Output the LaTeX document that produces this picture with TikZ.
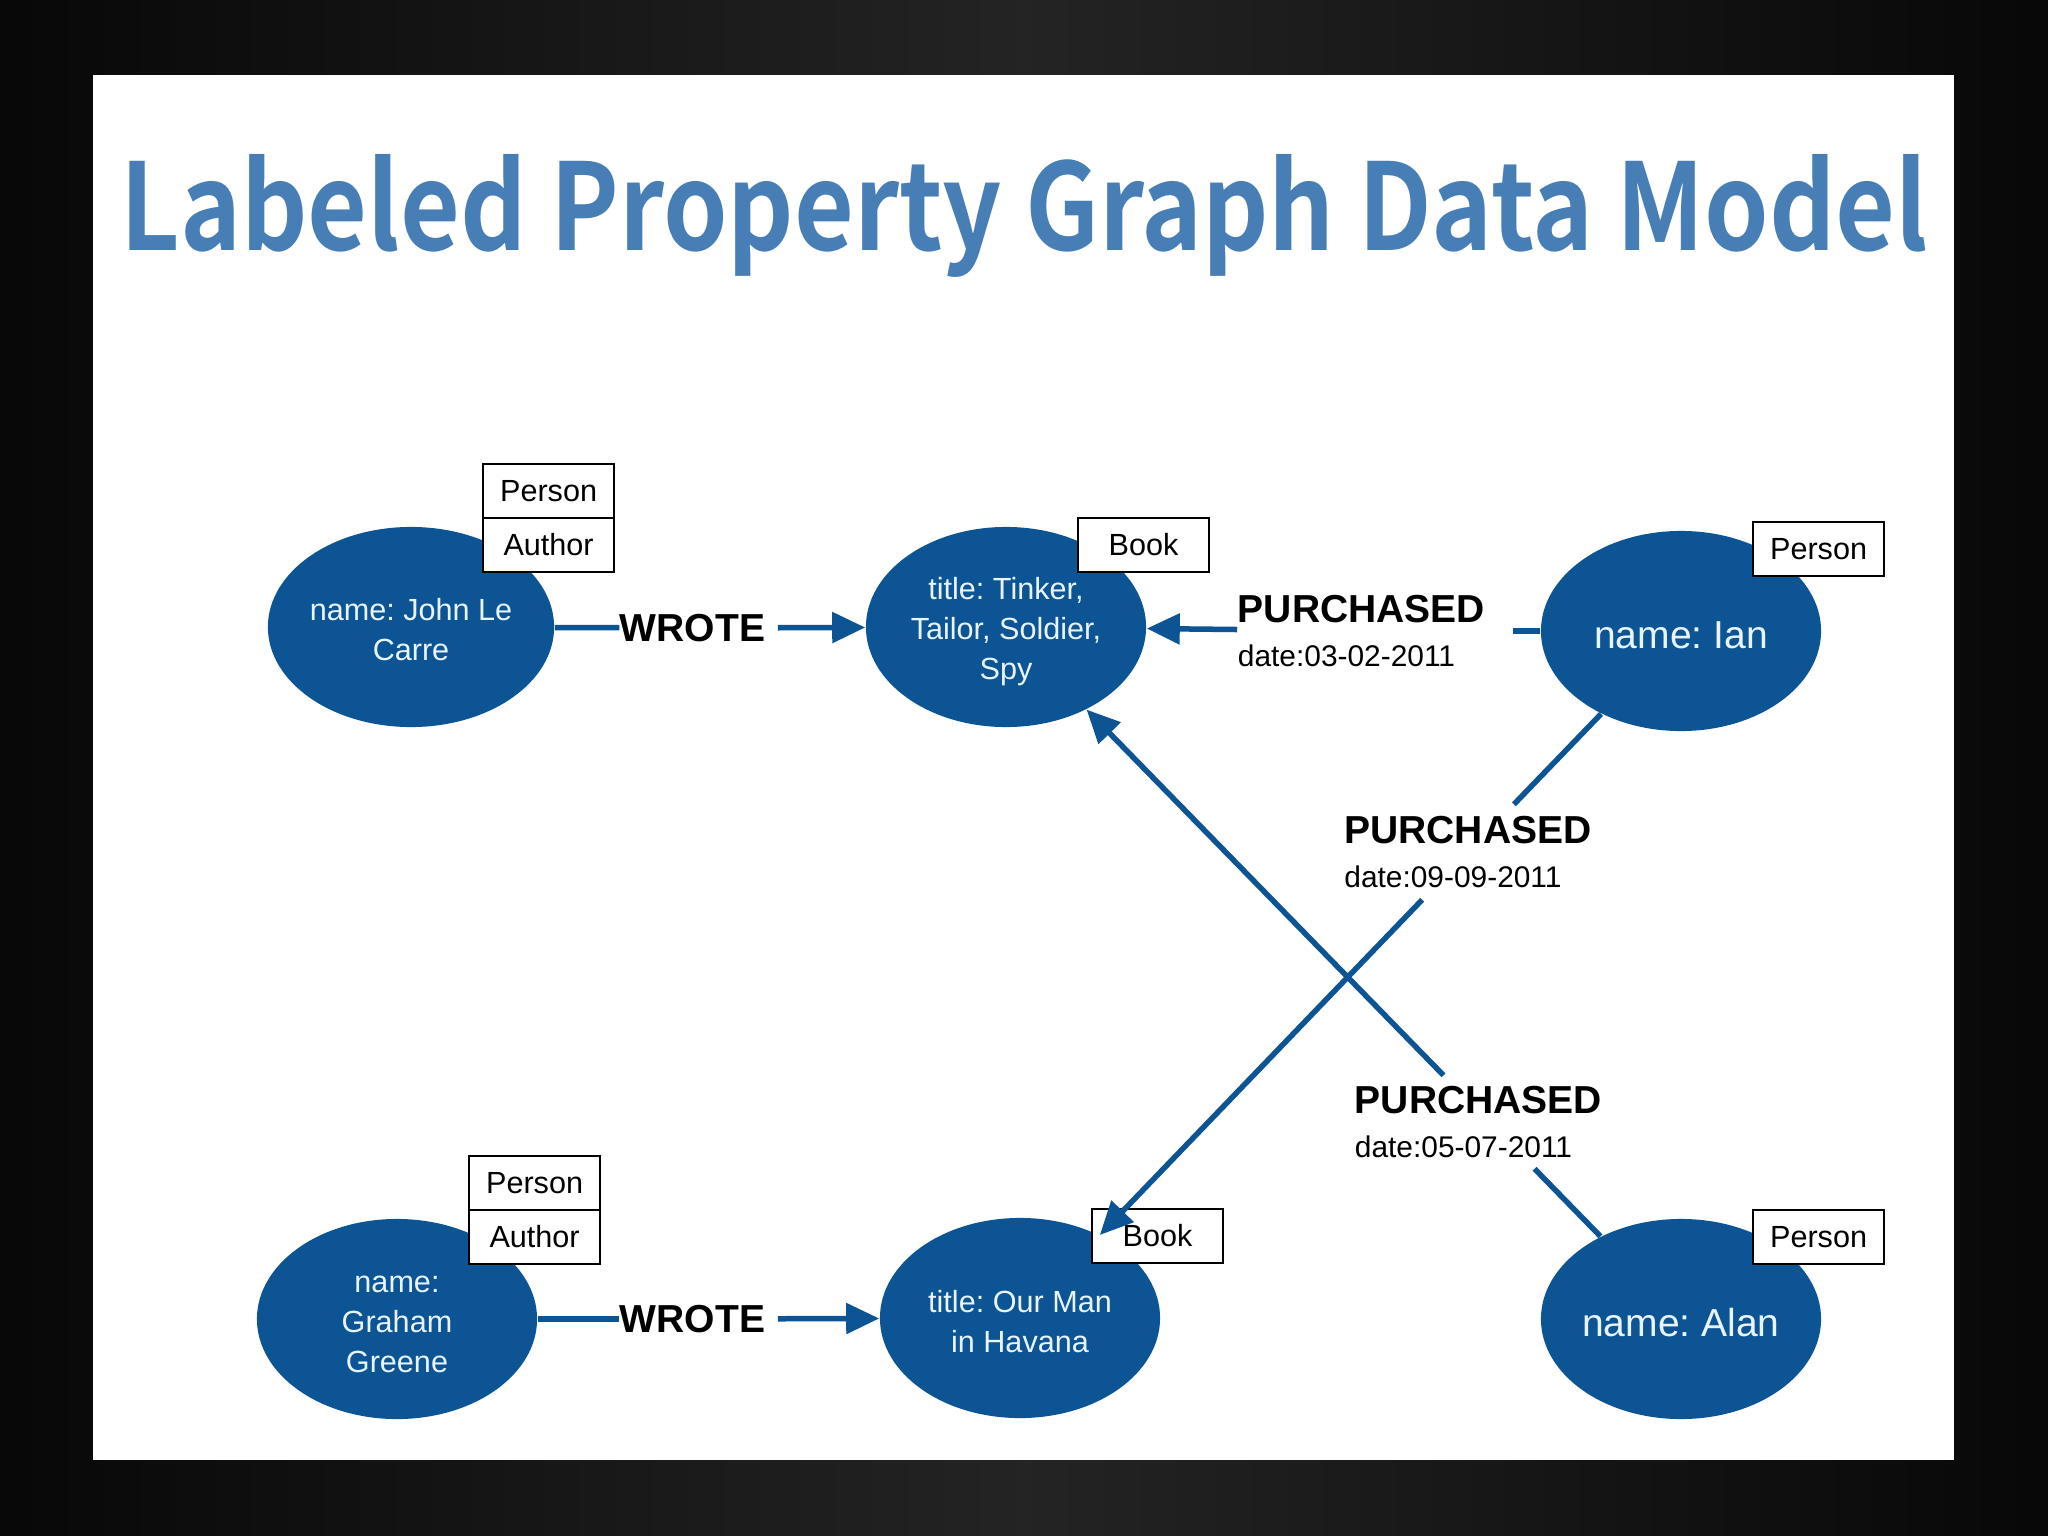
\documentclass[tikz,border=0pt]{standalone}
\usepackage{fontspec}
\setmainfont{Liberation Sans}
\newfontfamily\titlefont{Noto Sans CJK KR Bold}
\usetikzlibrary{shapes.geometric,arrows.meta,calc}
\definecolor{nodeblue}{RGB}{13,84,149}
\definecolor{titleblue}{RGB}{72,126,182}
\definecolor{nodetext}{RGB}{232,244,255}
\newcommand\firststrut[1]{\rule{0pt}{#1}}
\frenchspacing
\begin{document}
\begin{tikzpicture}[x=0.01cm,y=-0.01cm,
  ent/.style={ellipse, fill=nodeblue, draw=none, minimum width=2.8cm, minimum height=2cm,
    inner sep=0pt, text=nodetext, align=center, font=\fontsize{8.7pt}{11.4pt}\selectfont},
  bigent/.style={ent, font=\fontsize{11.1pt}{13pt}\selectfont,
    execute at begin node={\rule{0pt}{3.6mm}}},
  tag/.style={draw=black, fill=white, line width=0.6pt, minimum width=1.31cm, minimum height=0.54cm,
    inner sep=0pt, font=\fontsize{8.7pt}{10pt}\selectfont, anchor=south west},
  wrel/.style={font=\bfseries\fontsize{11.1pt}{13pt}\selectfont, inner xsep=0pt, inner ysep=2pt,
    text width=1.57cm, align=left},
  prel/.style={inner sep=0pt, align=left, font=\fontsize{8.5pt}{12.4pt}\selectfont},
  link/.style={draw=nodeblue, line width=0.055cm},
  arr/.style={link, -{Triangle[length=0.33cm,width=0.30cm]}},
]
\useasboundingbox (0,0) rectangle (2048,1536);
\shade[left color=black!97, right color=black!97, middle color=black!86] (0,0) rectangle (2048,1536);
\fill[white] (93,75) rectangle (1954,1460);

\node[anchor=base west, inner sep=0pt, text=titleblue] (title) at (120,250)
  {\resizebox{18.06cm}{0.96cm}{\titlefont Labeled Property Graph Data Model}};

% entities
\node[ent] (john) at (411,627) {\firststrut{2.7mm}name: John Le\\Carre};
\node[ent] (tinker) at (1006,627) {\firststrut{3.1mm}title: Tinker,\\Tailor, Soldier,\\Spy};
\node[bigent] (ian) at (1681,631) {name: Ian};
\node[ent] (graham) at (397,1319) {\firststrut{2.7mm}name:\\Graham\\Greene};
\node[ent] (havana) at (1020,1318) {\firststrut{2.9mm}title: Our Man\\in Havana};
\node[bigent] (alan) at (1681,1319) {name: Alan};

% labels
\node[tag] (johnAuthor) at ($(john.center)+(71,-54)$) {Author};
\node[tag] (johnPerson) at ($(john.center)+(71,-108)$) {Person};
\node[tag] (tinkerBook) at ($(tinker.center)+(71,-54)$) {Book};
\node[tag] (ianPerson) at ($(ian.center)+(71,-54)$) {Person};
\node[tag] (grahamAuthor) at ($(graham.center)+(71,-54)$) {Author};
\node[tag] (grahamPerson) at ($(graham.center)+(71,-108)$) {Person};
\node[tag] (havanaBook) at ($(havana.center)+(71,-54)$) {Book};
\node[tag] (alanPerson) at ($(alan.center)+(71,-54)$) {Person};

% relationship labels
\node[wrel] (w1) at (698.5,628) {WROTE};
\node[wrel] (w2) at (698.5,1319) {WROTE};
\node[prel, text width=2.74cm, minimum height=0.8cm] (p1) at (1375,631)
  {{\bfseries\fontsize{11.1pt}{12.4pt}\selectfont PURCHASED}\\date:03-02-2011};
\node[prel, minimum height=0.94cm] (p2) at (1468,852)
  {{\bfseries\fontsize{11.1pt}{12.4pt}\selectfont PURCHASED}\\date:09-09-2011};
\node[prel, text width=2.68cm, minimum height=0.92cm] (p3) at (1489,1122)
  {{\bfseries\fontsize{11.1pt}{12.4pt}\selectfont PURCHASED}\\date:05-07-2011};

% connectors
\draw[link] (john) -- (w1);
\draw[arr] (w1) -- (tinker);
\draw[link] (graham) -- (w2);
\draw[arr] (w2) -- (havana);
\draw[link] (ian) -- (p1);
\draw[arr] (p1) -- (tinker);
\draw[link] (ian) -- (p2);
\draw[arr] (p2) -- (havana);
\draw[link] (alan) -- (p3);
\draw[arr] (p3) -- (tinker);
\end{tikzpicture}
\end{document}
